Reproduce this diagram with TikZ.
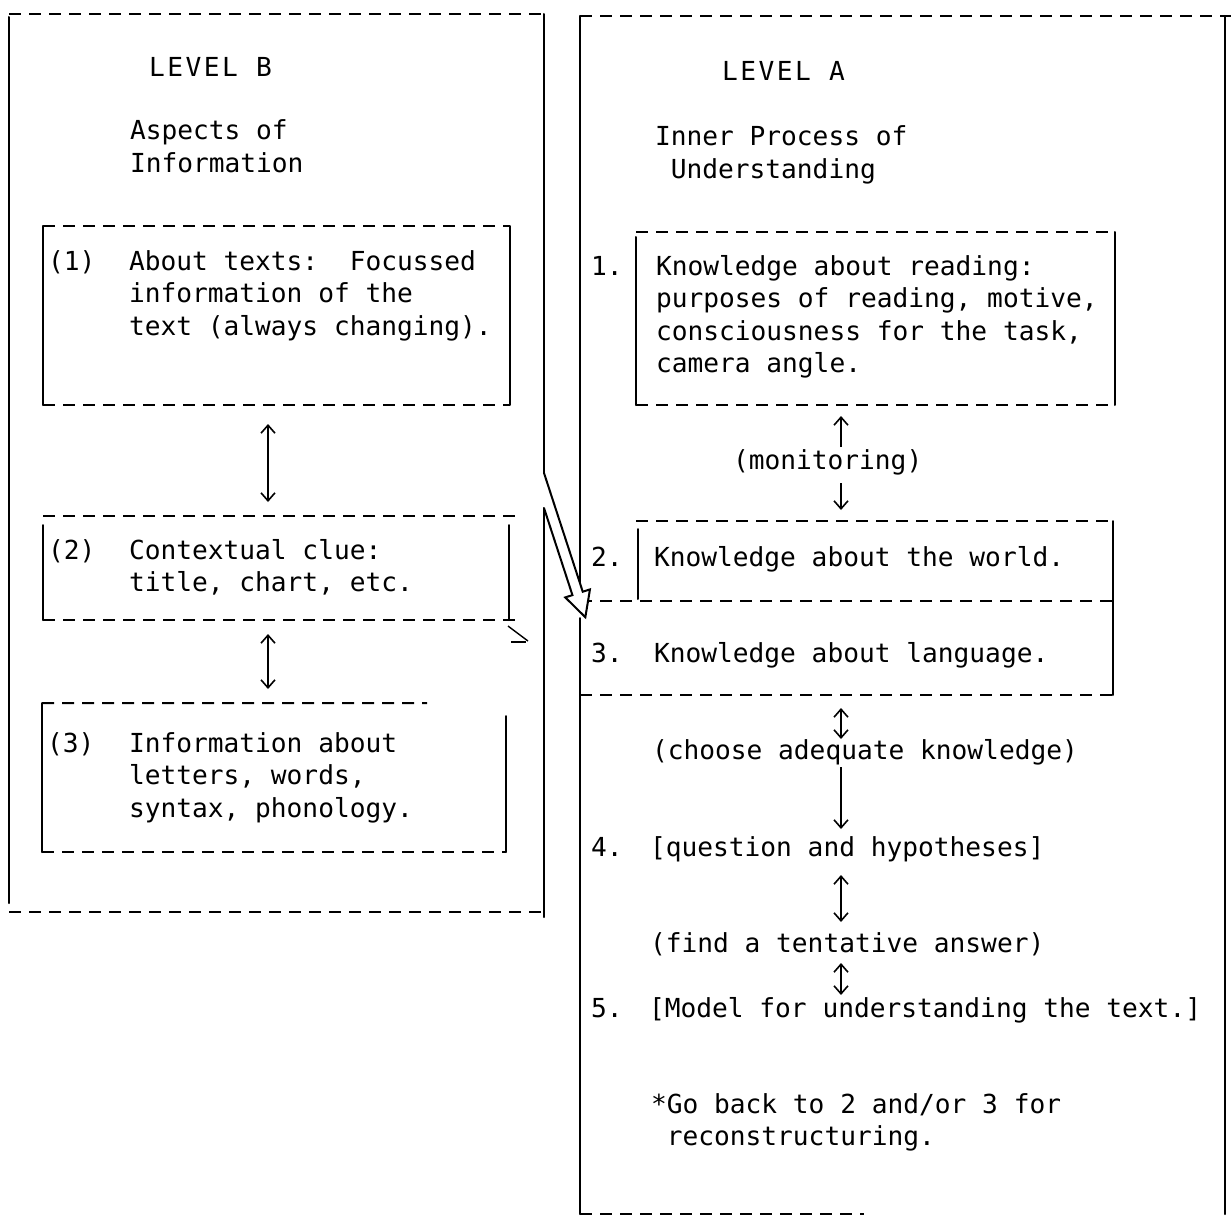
\documentclass[tikz,border=0pt]{standalone}
\usepackage{fontspec}
\newfontfamily\tw{DejaVu Sans Mono}
\newfontfamily\twwide{DejaVu Sans Mono}[LetterSpace=9.6]
\usetikzlibrary{arrows.meta,fit,calc}

% left-aligned lines whose baseline is that of the first line
\newcommand{\stack}[1]{\vtop{\baselineskip=16.25pt\lineskiplimit=-20pt\halign{##\hfil\cr#1\crcr}}}
% box with dashed top and bottom rules and solid sides
\newcommand{\mixbox}[1]{%
  \draw[rule] (#1.north west) -- (#1.north east);
  \draw[rule] (#1.south west) -- (#1.south east);
  \draw[side] (#1.north west) -- (#1.south west);
  \draw[side] (#1.north east) -- (#1.south east);}

\begin{document}
\begin{tikzpicture}[x=0.5pt,y=-0.5pt,
  every node/.style={inner sep=0pt, outer sep=0pt},
  side/.style={line width=1pt, line cap=round},
  rule/.style={line width=1pt, dash pattern=on 6pt off 4pt},
  txt/.style={anchor=base west, font=\tw\fontsize{13.1pt}{16.25pt}\selectfont},
  lbl/.style={txt, text height=9.8pt, text depth=3.2pt},
  heading/.style={anchor=base west, font=\twwide\fontsize{13.1pt}{16.25pt}\selectfont},
  both/.style={line width=0.8pt, {Straight Barb[length=4pt,width=7pt]}-{Straight Barb[length=4pt,width=7pt]}},
  onehead/.style={line width=0.8pt, -{Straight Barb[length=4pt,width=7pt]}},
]
\useasboundingbox (0,0) rectangle (1231,1220);

% ---------- panels ----------
\node[fit={(9,14) (544,912)}] (lpanel) {};
\node[fit={(580,16) (1225,1214)}] (rpanel) {};
\coordinate (gA) at (544,473);
\coordinate (gB) at (544,508);
\coordinate (rgapA) at (580,583);
\coordinate (rgapB) at (580,618);

\draw[rule] (lpanel.north west) -- (lpanel.north east);
\draw[rule] (lpanel.south west) -- (lpanel.south east);
\draw[side] ([yshift=-1.5pt]lpanel.north west) -- ([yshift=4.5pt]lpanel.south west);
\draw[side] (lpanel.north east) -- (gA);
\draw[side] (gB) -- ([yshift=-2.5pt]lpanel.south east);

\draw[rule] (rpanel.north west) -- ([xshift=3pt]rpanel.north east);
\draw[rule] (rpanel.south west) -- ($(rpanel.south west)!0.44!(rpanel.south east)$);
\draw[side] (rpanel.north west) -- (rgapA);
\draw[side] (rgapB) -- (rpanel.south west);
\draw[side] (rpanel.north east) -- (rpanel.south east);

% ---------- level B ----------
\node[heading] (lvlB) at (149,77) {LEVEL B};
\node[txt] (aspB) at (130,140) {\stack{Aspects of\cr Information}};

\node[fit={(43,226) (510,405)}] (b1) {};
\mixbox{b1}
\node[txt] (n1) at (48,270) {(1)};
\node[txt] (t1) at (129,270) {\stack{About texts:\ \ Focussed\cr information of the\cr text (always changing).}};

\node[fit={(43,516) (509,620)}] (b2) {};
\draw[rule] (b2.north west) -- ([xshift=4.5pt]b2.north east);
\draw[rule] (b2.south west) -- ([xshift=4.5pt]b2.south east);
\draw[side] ([yshift=-4.5pt]b2.north west) -- (b2.south west);
\draw[side] ([yshift=-4.5pt]b2.north east) -- (b2.south east);
\node[txt] (n2) at (48,559) {(2)};
\node[txt] (t2) at (129,559) {\stack{Contextual clue:\cr title, chart, etc.}};

\node[fit={(42,703) (506,852)}] (b3) {};
\draw[rule] (b3.north west) -- ($(b3.north west)!0.83!(b3.north east)$);
\draw[rule] (b3.south west) -- (b3.south east);
\draw[side] (b3.north west) -- (b3.south west);
\draw[side] ([yshift=-6.5pt]b3.north east) -- (b3.south east);
\node[txt] (n3) at (47,752) {(3)};
\node[txt] (t3) at (129,752) {\stack{Information about\cr letters, words,\cr syntax, phonology.}};

\coordinate (lcol) at (268,0);
\draw[both, shorten <=9.5pt, shorten >=7pt] (b1.south -| lcol) -- (b2.north -| lcol);
\draw[both, shorten <=7pt, shorten >=7pt] (b2.south -| lcol) -- (b3.north -| lcol);

% stray strokes beside box (2)
\draw[line width=0.7pt] (508,626) -- (528,641);
\draw[line width=0.7pt] (511,642) -- (526,642);

% ---------- level A ----------
\node[heading] (lvlA) at (722,81) {LEVEL A};
\node[txt] (inner) at (655,146) {\stack{Inner Process of\cr\ Understanding}};

\node[fit={(636,232) (1115,405)}] (r1) {};
\draw[rule] (r1.north west) -- (r1.north east);
\draw[rule] (r1.south west) -- (r1.south east);
\draw[side] ([yshift=-2.5pt]r1.north west) -- (r1.south west);
\draw[side] (r1.north east) -- (r1.south east);
\node[txt] (rn1) at (591,275) {1.};
\node[txt] (rt1) at (656,275) {\stack{Knowledge about reading:\cr purposes of reading, motive,\cr consciousness for the task,\cr camera angle.}};

\node[lbl] (mon) at (733,469) {(monitoring)};

\node[fit={(638,521) (1113,601)}] (r2) {};
\node[fit={(580,601) (1113,695)}] (r3) {};
\draw[rule] ([xshift=-1pt]r2.north west) -- ([xshift=1pt]r2.north east);
\draw[side] ([yshift=-4pt]r2.north west) -- ([yshift=1pt]r2.south west);
\draw[side] (r2.north east) -- (r3.south east);
\draw[rule] (r3.north west) -- (r3.north east);
\draw[rule] (r3.south west) -- (r3.south east);
\node[txt] (rn2) at (591,566) {2.};
\node[txt] (rt2) at (654,566) {Knowledge about the world.};
\node[txt] (rn3) at (591,662) {3.};
\node[txt] (rt3) at (654,662) {Knowledge about language.};

\node[lbl] (choose) at (652,759) {(choose adequate knowledge)};
\node[txt] (rn4) at (591,856) {4.};
\node[lbl] (q4) at (650,856) {[question and hypotheses]};
\node[lbl] (find) at (650,952) {(find a tentative answer)};
\node[txt] (rn5) at (591,1017) {5.};
\node[lbl] (m5) at (649,1017) {[Model for understanding the text.]};
\node[txt] (back) at (651,1113) {\stack{*Go back to 2 and/or 3 for\cr\ reconstructuring.}};

\coordinate (rcol) at (841,0);
\draw[onehead, shorten <=1.2pt, shorten >=5.5pt] (mon.north -| rcol) -- (r1.south -| rcol);
\draw[onehead, shorten <=3.8pt, shorten >=5.5pt] (mon.south -| rcol) -- (r2.north -| rcol);
\draw[both, shorten <=6.5pt, shorten >=0.2pt] (r3.south -| rcol) -- (choose.north -| rcol);
\draw[onehead, shorten <=0.8pt, shorten >=3.7pt] (choose.south -| rcol) -- (q4.north -| rcol);
\draw[both, shorten <=6.3pt, shorten >=5.2pt] (q4.south -| rcol) -- (find.north -| rcol);
\draw[both, shorten <=2.3pt, shorten >=1.2pt] (find.south -| rcol) -- (m5.north -| rcol);

% ---------- hollow arrow from level B into level A ----------
\coordinate (dtip) at (585.35,617.2);
\draw[side, fill=white, line join=miter]
  (gA) -- (582.75,591.75) -- (589.95,589.4) -- (dtip)
  -- (565.25,597.4) -- (572.44,595.11) -- (gB);
\end{tikzpicture}
\end{document}
